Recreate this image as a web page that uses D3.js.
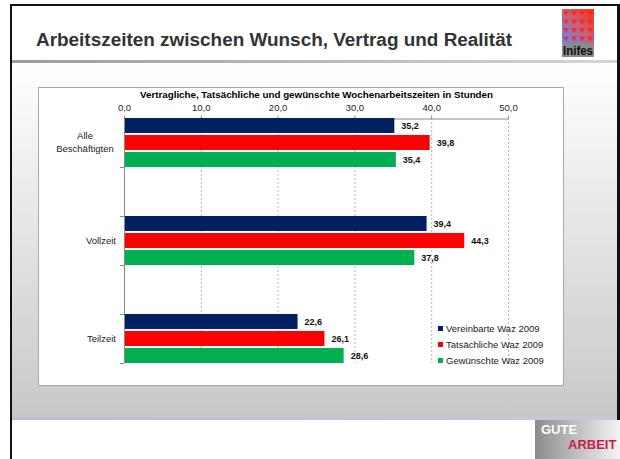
<!DOCTYPE html>
<html>
<head>
<meta charset="utf-8">
<script src="https://cdn.jsdelivr.net/npm/d3@7"></script>
<style>
  body { margin: 0; background: #fff; }
  svg { display: block; font-family: "Liberation Sans", Arial, sans-serif; }
</style>
</head>
<body>
<svg class="slide" width="620" height="459"></svg>
<script>
// data
var categories = ["Alle Beschäftigten", "Vollzeit", "Teilzeit"];
var seriesNames = ["Vereinbarte Waz 2009", "Tatsächliche Waz 2009", "Gewünschte Waz 2009"];
var vereinbarte = [35.2, 39.4, 22.6];
var tatsaechliche = [39.8, 44.3, 26.1];
var gewuenschte = [35.4, 37.8, 28.6];
var xTicks = [0, 10, 20, 30, 40, 50];

var seriesColors = ["#002060", "#ff0000", "#00b050"];
var fmt = function (v) { return d3.format(".1f")(v).replace(".", ","); };

var svg = d3.select(".slide");
var defs = svg.append("defs");

// background gradients
var bodyGrad = defs.append("linearGradient").attr("id", "bodyGrad")
    .attr("x1", 0).attr("y1", 0).attr("x2", 0).attr("y2", 1);
bodyGrad.append("stop").attr("offset", "0%").attr("stop-color", "#ffffff");
bodyGrad.append("stop").attr("offset", "100%").attr("stop-color", "#c8c8c8");

var lineGrad = defs.append("linearGradient").attr("id", "lineGrad");
lineGrad.append("stop").attr("offset", "0%").attr("stop-color", "#9c9ca8");
lineGrad.append("stop").attr("offset", "100%").attr("stop-color", "#d4d4dc");

var lineGrad2 = defs.append("linearGradient").attr("id", "lineGrad2");
lineGrad2.append("stop").attr("offset", "0%").attr("stop-color", "#bcbcd4");
lineGrad2.append("stop").attr("offset", "100%").attr("stop-color", "#c8c8d8");

var logoGrad = defs.append("linearGradient").attr("id", "logoGrad")
    .attr("x1", 0).attr("y1", 1).attr("x2", 1).attr("y2", 0);
logoGrad.append("stop").attr("offset", "0%").attr("stop-color", "#5a8cff");
logoGrad.append("stop").attr("offset", "50%").attr("stop-color", "#c86078");
logoGrad.append("stop").attr("offset", "100%").attr("stop-color", "#ff3010");

var guteGrad = defs.append("linearGradient").attr("id", "guteGrad");
guteGrad.append("stop").attr("offset", "0%").attr("stop-color", "#8c8c8c");
guteGrad.append("stop").attr("offset", "100%").attr("stop-color", "#f4f4f4");

// slide frame
svg.append("rect").attr("x", 10).attr("y", 4).attr("width", 610).attr("height", 460).attr("fill", "#111");
svg.append("rect").attr("x", 12).attr("y", 6).attr("width", 605).attr("height", 460).attr("fill", "#fff");
svg.append("rect").attr("x", 12).attr("y", 63).attr("width", 605).attr("height", 354).attr("fill", "url(#bodyGrad)");
svg.append("rect").attr("x", 12).attr("y", 60).attr("width", 605).attr("height", 3).attr("fill", "url(#lineGrad)");
svg.append("rect").attr("x", 12).attr("y", 417).attr("width", 605).attr("height", 3).attr("fill", "url(#lineGrad2)");

// header title
svg.append("text")
    .attr("x", 36)
    .attr("y", 46)
    .attr("font-size", "18px")
    .attr("font-weight", "bold")
    .attr("fill", "#333")
    .attr("textLength", 476)
    .attr("lengthAdjust", "spacingAndGlyphs")
    .text("Arbeitszeiten zwischen Wunsch, Vertrag und Realität");

// inifes logo
var logo = svg.append("g").attr("transform", "translate(562, 9)");
logo.append("rect").attr("width", 32).attr("height", 34).attr("fill", "url(#logoGrad)");
for (var i = 0; i < 4; i++) {
    for (var j = 0; j < 4; j++) {
        logo.append("path")
            .attr("d", "M" + (i * 8 + 1) + "," + (j * 8.5 + 2) + "l6,0l-3,5z")
            .attr("fill", "#ff1a0a")
            .attr("opacity", 0.7);
    }
}
logo.append("rect").attr("y", 34).attr("width", 32).attr("height", 14).attr("fill", "#8a8a8a");
logo.append("text")
    .attr("x", 16).attr("y", 46)
    .attr("text-anchor", "middle")
    .attr("font-size", "12px")
    .attr("font-weight", "bold")
    .attr("fill", "#111")
    .attr("textLength", 30)
    .attr("lengthAdjust", "spacingAndGlyphs")
    .text("Inifes");

// footer logo
var gute = svg.append("g").attr("transform", "translate(535, 420)");
gute.append("rect").attr("width", 85).attr("height", 39).attr("fill", "url(#guteGrad)");
gute.append("text").attr("x", 6).attr("y", 14)
    .attr("font-size", "13px").attr("font-weight", "bold").attr("fill", "#fff")
    .text("GUTE");
gute.append("text").attr("x", 33).attr("y", 29)
    .attr("font-size", "13px").attr("font-weight", "bold").attr("fill", "#c41e4a")
    .text("ARBEIT");

// chart panel
svg.append("rect")
    .attr("x", 38.5).attr("y", 87.5)
    .attr("width", 525).attr("height", 298)
    .attr("fill", "#fff")
    .attr("stroke", "#a8a8a8");

svg.append("text")
    .attr("x", 140)
    .attr("y", 98)
    .attr("font-size", "9.5px")
    .attr("font-weight", "bold")
    .attr("fill", "#000")
    .attr("textLength", 353)
    .attr("lengthAdjust", "spacingAndGlyphs")
    .text("Vertragliche, Tatsächliche und gewünschte Wochenarbeitszeiten in Stunden");

// scales
var x = d3.scaleLinear().domain([0, 50]).range([124, 508]);
var y = d3.scaleBand()
    .domain(categories)
    .range([118, 363])
    .paddingInner(0.5)
    .paddingOuter(0);
var ySub = d3.scaleBand()
    .domain(seriesNames)
    .range([0, y.bandwidth()])
    .paddingInner(0.12);

var table = categories.map(function (c, i) {
    return { cat: c, values: [vereinbarte[i], tatsaechliche[i], gewuenschte[i]] };
});

// grid lines
svg.selectAll(".grid")
    .data(xTicks.slice(1))
    .enter().append("line")
    .attr("class", "grid")
    .attr("x1", d => x(d) + 0.5)
    .attr("x2", d => x(d) + 0.5)
    .attr("y1", 118)
    .attr("y2", 363)
    .attr("stroke", "#b4b4b4")
    .attr("stroke-width", 1)
    .attr("stroke-dasharray", "2,2");

// value axis on top
var xAxis = svg.append("g")
    .attr("transform", "translate(0, 118.5)")
    .call(d3.axisTop(x).tickValues(xTicks).tickFormat(fmt).tickSizeInner(3).tickSizeOuter(0).tickPadding(5));
xAxis.select(".domain").attr("stroke", "#888");
xAxis.selectAll("line").attr("stroke", "#888");
xAxis.selectAll("text")
    .attr("font-family", "Liberation Sans, Arial, sans-serif")
    .attr("font-size", "9.5px")
    .attr("fill", "#222");

// bars
var groups = svg.append("g")
    .selectAll("g")
    .data(table)
    .join("g")
    .attr("transform", d => "translate(0," + y(d.cat) + ")");

groups.selectAll("rect")
    .data(d => d.values.map(function (v, k) { return { key: seriesNames[k], value: v, k: k }; }))
    .join("rect")
    .attr("x", x(0))
    .attr("y", d => ySub(d.key))
    .attr("width", d => x(d.value) - x(0))
    .attr("height", ySub.bandwidth())
    .attr("fill", d => seriesColors[d.k]);

groups.selectAll(".val")
    .data(d => d.values.map(function (v, k) { return { key: seriesNames[k], value: v, k: k }; }))
    .join("text")
    .attr("class", "val")
    .attr("x", d => x(d.value) + 7)
    .attr("y", d => ySub(d.key) + ySub.bandwidth() / 2)
    .attr("dy", "0.35em")
    .attr("font-size", "9px")
    .attr("font-weight", "bold")
    .attr("fill", "#111")
    .text(d => fmt(d.value));

// category axis
svg.append("line")
    .attr("x1", x(0) + 0.5).attr("x2", x(0) + 0.5)
    .attr("y1", 118).attr("y2", 363)
    .attr("stroke", "#888");

var catTicks = [];
categories.forEach(function (c) {
    if (y(c) > 118) catTicks.push(y(c));
    catTicks.push(y(c) + y.bandwidth());
});
svg.selectAll(".cattick")
    .data(catTicks)
    .enter().append("line")
    .attr("class", "cattick")
    .attr("x1", x(0) - 4).attr("x2", x(0))
    .attr("y1", d => d + 0.5).attr("y2", d => d + 0.5)
    .attr("stroke", "#888");

var labelLines = { "Alle Beschäftigten": ["Alle", "Beschäftigten"] };
categories.forEach(function (c) {
    var lines = labelLines[c] || [c];
    var cy = y(c) + y.bandwidth() / 2;
    var t = svg.append("text")
        .attr("font-size", "9.5px")
        .attr("fill", "#222")
        .attr("text-anchor", lines.length > 1 ? "middle" : "end");
    lines.forEach(function (l, li) {
        t.append("tspan")
            .attr("x", lines.length > 1 ? 85 : x(0) - 8)
            .attr("y", cy + (li - (lines.length - 1) / 2) * 13)
            .attr("dy", "0.35em")
            .text(l);
    });
});

// legend
var legend = svg.append("g").attr("transform", "translate(438, 329)");
legend.selectAll("rect")
    .data(seriesNames)
    .enter().append("rect")
    .attr("x", 0)
    .attr("y", (d, i) => i * 16 - 3)
    .attr("width", 5)
    .attr("height", 5)
    .attr("fill", (d, i) => seriesColors[i]);
legend.selectAll("text")
    .data(seriesNames)
    .enter().append("text")
    .attr("x", 8)
    .attr("y", (d, i) => i * 16)
    .attr("dy", "0.35em")
    .attr("font-size", "9.5px")
    .attr("fill", "#222")
    .text(d => d);
</script>
</body>
</html>
